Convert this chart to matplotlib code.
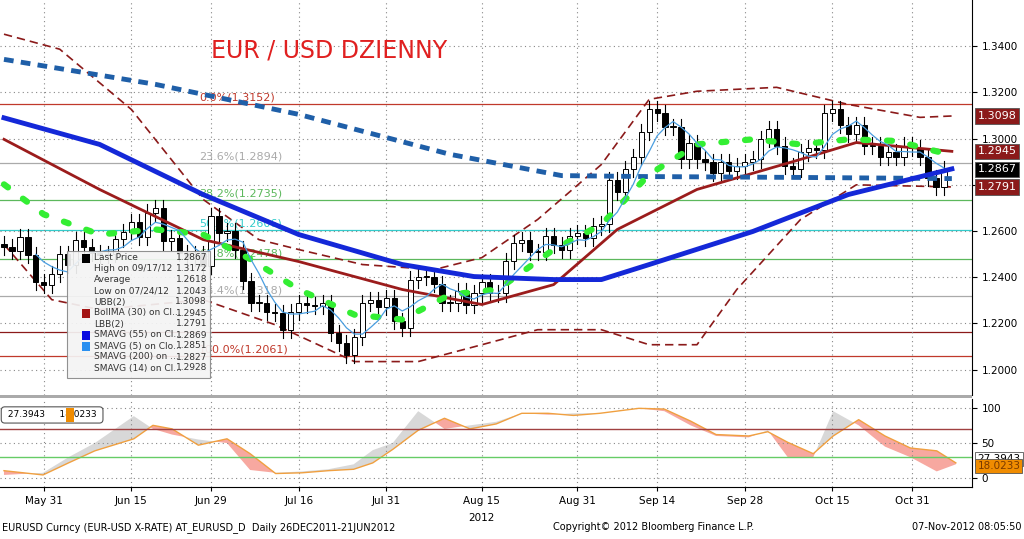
import numpy as np
import pandas as pd
import matplotlib
matplotlib.use("Agg")
import matplotlib.pyplot as plt
from matplotlib.patches import Rectangle

# ── data ──────────────────────────────────────────────────────────────
dates = pd.bdate_range("2012-05-24", "2012-11-06")
closes = [1.2530, 1.2515,
          1.2575, 1.2495, 1.2380, 1.2365, 1.2415,
          1.2500, 1.2455, 1.2560, 1.2530, 1.2505,
          1.2495, 1.2500, 1.2565, 1.2595, 1.2640,
          1.2575, 1.2680, 1.2700, 1.2555, 1.2570,
          1.2505, 1.2485, 1.2500, 1.2450, 1.2665,
          1.2590, 1.2600, 1.2520, 1.2385, 1.2290,
          1.2290, 1.2250, 1.2245, 1.2170, 1.2250,
          1.2290, 1.2280, 1.2275, 1.2290, 1.2160,
          1.2115, 1.2065, 1.2140, 1.2290, 1.2300,
          1.2270, 1.2310, 1.2210, 1.2180, 1.2390,
          1.2400, 1.2400, 1.2370, 1.2290, 1.2290,
          1.2340, 1.2280, 1.2330, 1.2380, 1.2330,
          1.2330, 1.2470, 1.2550, 1.2560, 1.2510,
          1.2510, 1.2580, 1.2540, 1.2520, 1.2580,
          1.2590, 1.2570, 1.2620, 1.2630, 1.2820,
          1.2770, 1.2870, 1.2920, 1.3030, 1.3130,
          1.3110, 1.3050, 1.3050, 1.2910, 1.2980,
          1.2910, 1.2900, 1.2850, 1.2900, 1.2860,
          1.2880, 1.2900, 1.2910, 1.3000, 1.3040,
          1.2970, 1.2880, 1.2870, 1.2940, 1.2960,
          1.2950, 1.3110, 1.3130, 1.3060, 1.3020,
          1.3060, 1.2970, 1.2970, 1.2920, 1.2940,
          1.2920, 1.2970, 1.2960, 1.2920, 1.2830,
          1.2790, 1.2867]
first_open = 1.2545

# moving averages / bands read at bar positions
sma200_x = [0, 19, 37, 56, 70, 80, 100, 119]
sma200_y = [1.3343, 1.3235, 1.3105, 1.2932, 1.2840, 1.2836, 1.2832, 1.2827]
sma55_x = [0, 12, 25, 37, 50, 59, 69, 75, 81, 94, 106, 119]
sma55_y = [1.3090, 1.2975, 1.2758, 1.2585, 1.2455, 1.2403, 1.2390, 1.2390, 1.2455, 1.2598, 1.2758, 1.2869]
bollma_x = [0, 12, 25, 37, 50, 60, 69, 77, 87, 100, 107, 119]
bollma_y = [1.2997, 1.2780, 1.2563, 1.2468, 1.2347, 1.2282, 1.2368, 1.2607, 1.2780, 1.2910, 1.2983, 1.2945]
ubb_x = [0, 7, 16, 25, 32, 37, 45, 54, 60, 67, 75, 81, 87, 97, 106, 115, 119]
ubb_y = [1.3452, 1.3387, 1.3126, 1.2737, 1.2563, 1.2520, 1.2455, 1.2433, 1.2485, 1.2650, 1.2888, 1.3170, 1.3205, 1.3222, 1.3148, 1.3092, 1.3098]
lbb_x = [0, 6, 12, 25, 34, 44, 52, 60, 67, 75, 81, 87, 92, 100, 107, 119]
lbb_y = [1.2542, 1.2303, 1.2260, 1.2303, 1.2195, 1.2035, 1.2035, 1.2108, 1.2173, 1.2173, 1.2108, 1.2108, 1.2347, 1.2650, 1.2800, 1.2791]
sma14_x = [0, 5, 12, 19, 25, 31, 37, 44, 50, 56, 62, 69, 75, 81, 87, 94, 100, 106, 112, 119]
sma14_y = [1.2802, 1.2672, 1.2585, 1.2607, 1.2585, 1.2477, 1.2347, 1.2238, 1.2217, 1.2325, 1.2347,
           1.2520, 1.2628, 1.2845, 1.2975, 1.2997, 1.2975, 1.2997, 1.2990, 1.2928]

fib_levels = [1.3152, 1.2894, 1.2735, 1.2606, 1.2478, 1.2318, 1.2061]
fib_names = ["0.0%", "23.6%", "38.2%", "50.0%", "61.8%", "76.4%", "100.0%"]
fib_colors = ["#c0392b", "#aaaaaa", "#5cb85c", "#33cccc", "#5cb85c", "#aaaaaa", "#c0392b"]

tick_idx = [5, 16, 26, 37, 48, 60, 72, 82, 93, 104, 114]
tick_lbl = ["May 31", "Jun 15", "Jun 29", "Jul 16", "Jul 31", "Aug 15", "Aug 31", "Sep 14", "Sep 28", "Oct 15", "Oct 31"]

osc_x = [0, 4.9, 8.1, 11.4, 16.3, 18.7, 21.1, 24.4, 28, 30.9, 34.1, 37.4, 40.7, 43.9, 46.3, 48.8, 52, 55.3, 58.5,
         61.8, 65, 68.3, 71.5, 74.8, 79.7, 82.9, 86.2, 89.4, 93.5, 95.9, 98.4, 101.6, 104.1, 107.3, 110.6, 113.8, 117.1, 119.5]
osc_slow = [11, 5, 22, 39, 56, 75, 70, 47, 56, 35, 7, 8, 11, 13, 22, 41, 68, 85, 70, 77, 92, 92, 89, 92, 99, 98,
            81, 62, 60, 66, 51, 35, 60, 83, 60, 43, 39, 22]
osc_fast = [5, 8, 30, 50, 88, 70, 62, 55, 50, 12, 8, 10, 13, 20, 40, 50, 95, 70, 75, 80, 92, 90, 92, 92, 99, 95,
            75, 60, 58, 68, 30, 30, 95, 75, 45, 30, 10, 20]

# ── figure ────────────────────────────────────────────────────────────
fig = plt.figure(figsize=(10.24, 5.39), dpi=100)
ax = fig.add_axes([0.0, 0.267, 0.949, 0.733])
ax2 = fig.add_axes([0.0, 0.0965, 0.949, 0.163])

n = len(closes)
x = np.arange(n)
opens = [first_open] + closes[:-1]
for i in range(n):
    o, c = opens[i], closes[i]
    hi, lo = max(o, c) + 0.0035, min(o, c) - 0.0035
    ax.plot([i, i], [lo, hi], color="black", lw=0.8, zorder=3)
    up = c >= o
    ax.add_patch(Rectangle((i - 0.33, min(o, c)), 0.66, max(abs(c - o), 0.0004),
                           facecolor="white" if up else "black", edgecolor="black", lw=0.7, zorder=4))

ax.plot(ubb_x, ubb_y, color="#8b1a1a", ls=(0, (5, 3)), lw=1.2, zorder=2)
ax.plot(lbb_x, lbb_y, color="#8b1a1a", ls=(0, (5, 3)), lw=1.2, zorder=2)
ax.plot(bollma_x, bollma_y, color="#9b1c1c", lw=2.0, zorder=5)
ax.plot(sma200_x, sma200_y, color="#1f5fa8", ls=(0, (2, 1.5)), lw=3.5, zorder=5)
ax.plot(sma55_x, sma55_y, color="#1428d8", lw=3.5, zorder=6)
ax.plot(sma14_x, sma14_y, color="#33ee33", ls=(0, (0.8, 3)), lw=4.5, dash_capstyle="round", zorder=5)
sma5 = pd.Series(closes).rolling(5).mean()
ax.plot(x, sma5, color="#4a9ee0", lw=0.9, zorder=5)

for lvl, nm, col in zip(fib_levels, fib_names, fib_colors):
    ax.axhline(lvl, color=col, lw=0.9, zorder=1)
    ax.text(24.5, lvl + 0.0005, f"{nm}({lvl:.4f})", color=col, fontsize=8, va="bottom", zorder=2)
ax.axhline(1.2165, color="#8b1a1a", lw=0.9, zorder=1)

ax.set_xlim(-0.5, 121.5)
ax.set_ylim(1.1890, 1.3600)
ax.yaxis.tick_right()
ax.set_yticks(np.arange(1.20, 1.341, 0.02))
ax.set_yticklabels([f"{v:.4f}" for v in np.arange(1.20, 1.341, 0.02)], fontsize=7.5)
ax.set_xticks(tick_idx)
ax.set_xticklabels([])
ax.tick_params(axis="x", length=0)
ax.grid(color="#888888", ls=(0, (1, 3)), lw=0.8)
for s in ["top", "left", "bottom"]:
    ax.spines[s].set_visible(False)

ax.text(26, 1.3380, "EUR / USD DZIENNY", color="#e02020", fontsize=17, va="center")

# right value labels
for val, col in [(1.3098, "#8b1a1a"), (1.2945, "#8b1a1a"), (1.2867, "black"), (1.2791, "#8b1a1a")]:
    ax.annotate(f"{val:.4f}", xy=(1.0, val), xycoords=("axes fraction", "data"),
                xytext=(4, 0), textcoords="offset points", va="center", ha="left",
                fontsize=8, color="white",
                bbox=dict(boxstyle="square,pad=0.25", fc=col, ec="#555555", lw=0.6))

# legend box
leg_items = [("Last Price", "1.2867"), ("High on 09/17/12", "1.3172"), ("Average", "1.2618"),
             ("Low on 07/24/12", "1.2043"), ("UBB(2)", "1.3098"), ("BollMA (30) on Cl...", "1.2945"),
             ("LBB(2)", "1.2791"), ("SMAVG (55) on Cl...", "1.2869"), ("SMAVG (5) on Clo...", "1.2851"),
             ("SMAVG (200) on ...", "1.2827"), ("SMAVG (14) on Cl...", "1.2928")]
leg_cols = ["black", None, None, None, None, "#a31515", None, "#0a0ae0", "#2a8ff0", None, None]
lx0, ly0, lw_, lh_ = 67 / 1024, 1 - 378 / 539, 143 / 1024, 127 / 539
fig.patches.append(Rectangle((lx0, ly0), lw_, lh_, transform=fig.transFigure,
                             fc="#f4f4f4", ec="#888888", lw=0.8, alpha=0.92, zorder=10))
for k, ((nm, v), col) in enumerate(zip(leg_items, leg_cols)):
    yy = 1 - (258 + k * 11) / 539
    if col:
        fig.patches.append(Rectangle((82 / 1024, yy - 0.009), 8 / 1024, 0.017, transform=fig.transFigure,
                                     fc=col, ec="none", zorder=11))
    fig.text(94 / 1024, yy, nm, fontsize=6.5, va="center", color="#333333", zorder=12)
    fig.text(207 / 1024, yy, v, fontsize=6.5, va="center", ha="right", color="#333333", zorder=12)

# ── oscillator ────────────────────────────────────────────────────────
ox = np.array(osc_x)
slow = np.array(osc_slow)
fast = np.array(osc_fast)
ax2.fill_between(ox, slow, fast, where=fast >= slow, color="#d8d8d8", interpolate=True, lw=0)
ax2.fill_between(ox, slow, fast, where=fast < slow, color="#f7a8a0", interpolate=True, lw=0)
ax2.plot(ox, slow, color="#f0a040", lw=1.0)
ax2.axhline(70, color="#a04040", lw=1.0)
ax2.axhline(30, color="#66cc66", lw=1.0)
ax2.set_xlim(-0.5, 121.5)
ax2.set_ylim(-12, 112)
ax2.yaxis.tick_right()
ax2.set_yticks([0, 50, 100])
ax2.tick_params(axis="y", labelsize=7.5)
ax2.set_xticks(tick_idx)
ax2.set_xticklabels(tick_lbl, fontsize=7.5)
ax2.tick_params(axis="x", length=3)
ax2.grid(color="#888888", ls=(0, (1, 3)), lw=0.8)
for s in ["top", "left"]:
    ax2.spines[s].set_visible(False)
ax2.text(60, -60, "2012", ha="center", fontsize=7.5, clip_on=False)
for val, fc, tc in [(27.3943, "white", "black"), (18.0233, "#f08c00", "#7a3a00")]:
    ax2.annotate(f"{val:.4f}", xy=(1.0, val), xycoords=("axes fraction", "data"),
                 xytext=(4, 0), textcoords="offset points", va="center", ha="left", fontsize=7.5,
                 color=tc, bbox=dict(boxstyle="square,pad=0.2", fc=fc, ec="#555555", lw=0.6))
ax2.text(0.005, 0.82, " 27.3943     18.0233 ", transform=ax2.transAxes, fontsize=6.5, va="center",
         bbox=dict(boxstyle="round,pad=0.4", fc="white", ec="#555555", lw=0.8))
ax2.add_patch(Rectangle((0.068, 0.74), 0.008, 0.16, transform=ax2.transAxes, fc="#f08c00", ec="none", zorder=5))

# divider between panels
fig.patches.append(Rectangle((0, 0.262), 0.949, 0.006, transform=fig.transFigure, fc="#aaaaaa", ec="none"))

# footer
fig.text(0.002, 0.017, "EURUSD Curncy (EUR-USD X-RATE) AT_EURUSD_D  Daily 26DEC2011-21JUN2012", fontsize=7)
fig.text(0.54, 0.017, "Copyright\u00a9 2012 Bloomberg Finance L.P.", fontsize=7)
fig.text(0.998, 0.017, "07-Nov-2012 08:05:50", fontsize=7, ha="right")

fig.savefig("out.png", dpi=100)
